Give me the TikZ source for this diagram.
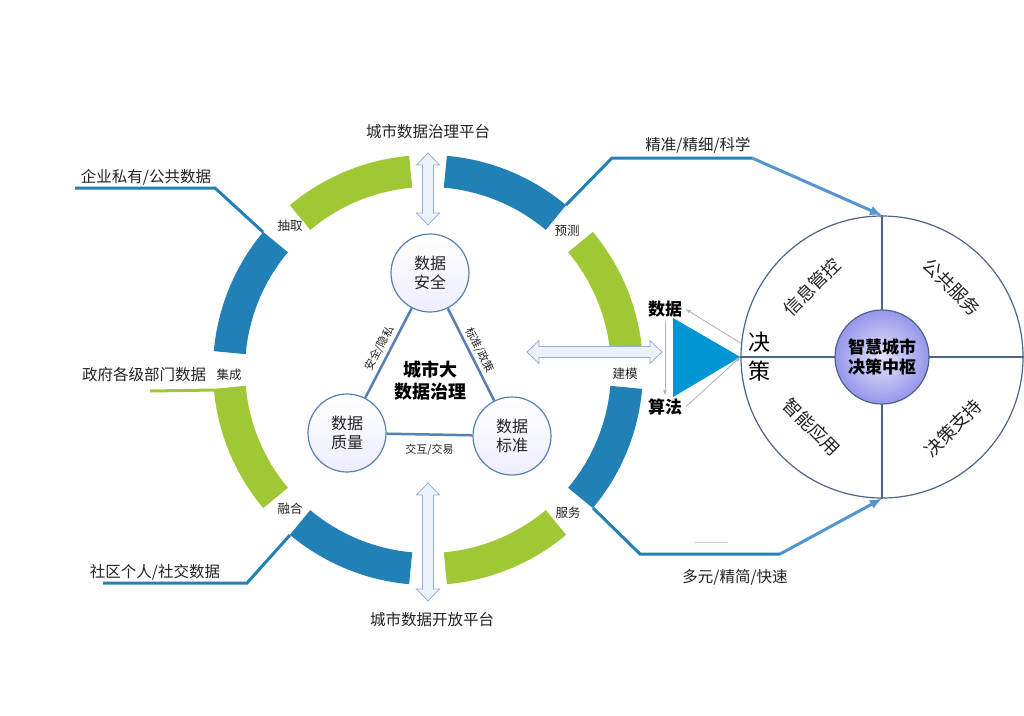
\documentclass[tikz,border=0pt]{standalone}
\usepackage{fontspec}
\setmainfont{Noto Sans CJK SC}
\usetikzlibrary{arrows.meta}
\definecolor{ringblue}{RGB}{33,128,181}
\definecolor{ringgreen}{RGB}{160,200,52}
\definecolor{linkblue}{RGB}{84,148,208}
\definecolor{edgeblue}{RGB}{84,128,178}
\definecolor{rimblue}{RGB}{78,100,135}
\definecolor{triblue}{RGB}{0,150,212}
\definecolor{harrowline}{RGB}{150,175,212}
\definecolor{harrowfill}{RGB}{234,241,250}
\definecolor{txt}{RGB}{35,35,35}

\begin{document}
\begin{tikzpicture}[x=1pt, y=-1pt,
  seg/.style={line width=32pt},
  lab/.style={font=\fontsize{12.5}{14}\selectfont, text=txt, inner sep=0pt},
  big/.style={font=\fontsize{15.5}{18}\selectfont, text=txt, inner sep=0pt},
  cir/.style={circle, draw=edgeblue, line width=1.2pt, minimum size=78pt, top color=white, bottom color=blue!7, align=center, text=txt, font=\fontsize{16}{19}\selectfont},
  tri/.style={edgeblue, line width=2.5pt},
  elab/.style={font=\fontsize{11}{13}\selectfont, text=txt, inner sep=2pt},
  feed/.style={ringblue, line width=3pt},
  link/.style={linkblue, line width=3pt, -{Latex[length=12pt,width=10pt]}},
  harrow/.style={draw=harrowline, fill=harrowfill, line width=0.8pt},
  quad/.style={font=\fontsize{18}{20}\selectfont, text=txt},
  bold/.style={font=\fontsize{17}{20}\selectfont\bfseries, text=black, align=center},
  thin/.style={gray!60, line width=0.8pt, -{Latex[length=5pt,width=4pt]}}]

\useasboundingbox[fill=white] (0,0) rectangle (1024,715);

\foreach \a/\c in {5/ringgreen,50/ringblue,95/ringgreen,140/ringblue,185/ringgreen,230/ringblue,275/ringgreen,320/ringblue}
  \draw[seg, \c] (428,370) ++(-\a:199) arc[start angle=-\a, end angle=-\a-35, radius=199];

\draw[harrow] (428,153) -- ++(11.5,12) -- ++(-6,0) -- ++(0,48) -- ++(6,0) -- ++(-11.5,12) -- ++(-11.5,-12) -- ++(6,0) -- ++(0,-48) -- ++(-6,0) -- cycle;
\draw[harrow] (428,483) -- ++(11.5,12) -- ++(-6,0) -- ++(0,94) -- ++(6,0) -- ++(-11.5,12) -- ++(-11.5,-12) -- ++(6,0) -- ++(0,-94) -- ++(-6,0) -- cycle;
\draw[harrow] (527,352) -- ++(12,-11.5) -- ++(0,6) -- ++(111,0) -- ++(0,-6) -- ++(12,11.5) -- ++(-12,11.5) -- ++(0,-6) -- ++(-111,0) -- ++(0,6) -- cycle;

\node[big] (plat0) at (428,132){城市数据治理平台};
\node[big] (plat1) at (432,620){城市数据开放平台};

\node[big] (src0) at (146,177){企业私有/公共数据};
\node[big] (src1) at (144,375){政府各级部门数据};
\node[big] (src2) at (155,572){社区个人/社交数据};
\node[big] (out0) at (698,145){精准/精细/科学};
\node[big] (out1) at (735,577){多元/精简/快速};

\node[lab] (stp0) at (290,226){抽取};
\node[lab] (stp1) at (229,375){集成};
\node[lab] (stp2) at (290,509){融合};
\node[lab] (stp3) at (567,231){预测};
\node[lab] (stp4) at (625,374){建模};
\node[lab] (stp5) at (568,513){服务};

\coordinate (e0) at (75,188);
\coordinate (e1) at (215,188);
\coordinate (e2) at (263,232);
\draw[feed] (e0) -- (e1) -- (e2);

\coordinate (h0) at (150,391);
\coordinate (h1) at (215,390);
\draw[ringgreen, line width=3pt] (h0) -- (h1);

\coordinate (k0) at (103,583);
\coordinate (k1) at (247,583);
\coordinate (k2) at (290,535);
\draw[feed] (k0) -- (k1) -- (k2);

\node[circle, draw=rimblue, line width=1.2pt, minimum size=282pt, inner sep=0pt] (dec) at (882,357){};
\draw[rimblue, line width=1.2pt] (dec.north) -- (dec.south);
\draw[rimblue, line width=1.2pt] (dec.west) -- (dec.east);

\coordinate (f0) at (566,205);
\coordinate (f1) at (612,158);
\coordinate (f2) at (752,158);
\draw[feed] (f0) -- (f1) -- (f2);
\draw[link] (f2) -- (dec.north);

\coordinate (g0) at (593,508);
\coordinate (g1) at (640,554);
\coordinate (g2) at (780,554);
\draw[feed] (g0) -- (g1) -- (g2);
\draw[link] (g2) -- (dec.south);
\draw[gray!35, line width=1pt] (694,542) -- (728,542);

\node[cir] (cir0) at (430,273){数据\\安全};
\node[cir] (cir1) at (347,433){数据\\质量};
\node[cir] (cir2) at (512,436){数据\\标准};

\draw[tri] (cir1) -- node[elab, sloped, above=1pt]{安全/隐私} (cir0);
\draw[tri] (cir0) -- node[elab, sloped, above=1pt]{标准/政策} (cir2);
\draw[tri] (cir1) -- node[elab, below=6pt]{交互/交易} (cir2);

\node[bold, font=\fontsize{18}{22}\selectfont\bfseries] (gov) at (430,381){城市大\\数据治理};

\coordinate (t0) at (673,318);
\coordinate (t1) at (673,397);
\fill[triblue] (t0) -- (t1) -- (dec.west) -- cycle;

\node[bold] (alg0) at (665,309){数据};
\node[bold] (alg1) at (665,407){算法};
\draw[thin] (alg0.south) -- (alg1.north);
\draw[thin] (dec.west) ++(0,-14) coordinate (d0) (d0) -- (alg0.east);
\draw[thin] (alg1.east) -- (dec.west);

\node[font=\fontsize{22}{24}\selectfont, text=black] (jue) at (759,342){决};
\node[font=\fontsize{22}{24}\selectfont, text=black] (ce) at (759,371){策};

\node[quad, rotate=45] (q0) at (812,287){信息管控};
\node[quad, rotate=-45] (q1) at (952,287){公共服务};
\node[quad, rotate=-45] (q2) at (812,427){智能应用};
\node[quad, rotate=45] (q3) at (953,428){决策支持};

\node[circle, draw=rimblue, line width=1.2pt, minimum size=94pt, inner color={rgb,255:red,228;green,228;blue,252}, outer color={rgb,255:red,150;green,150;blue,236}, bold] (core) at (882,357){智慧城市\\决策中枢};

\end{tikzpicture}
\end{document}
